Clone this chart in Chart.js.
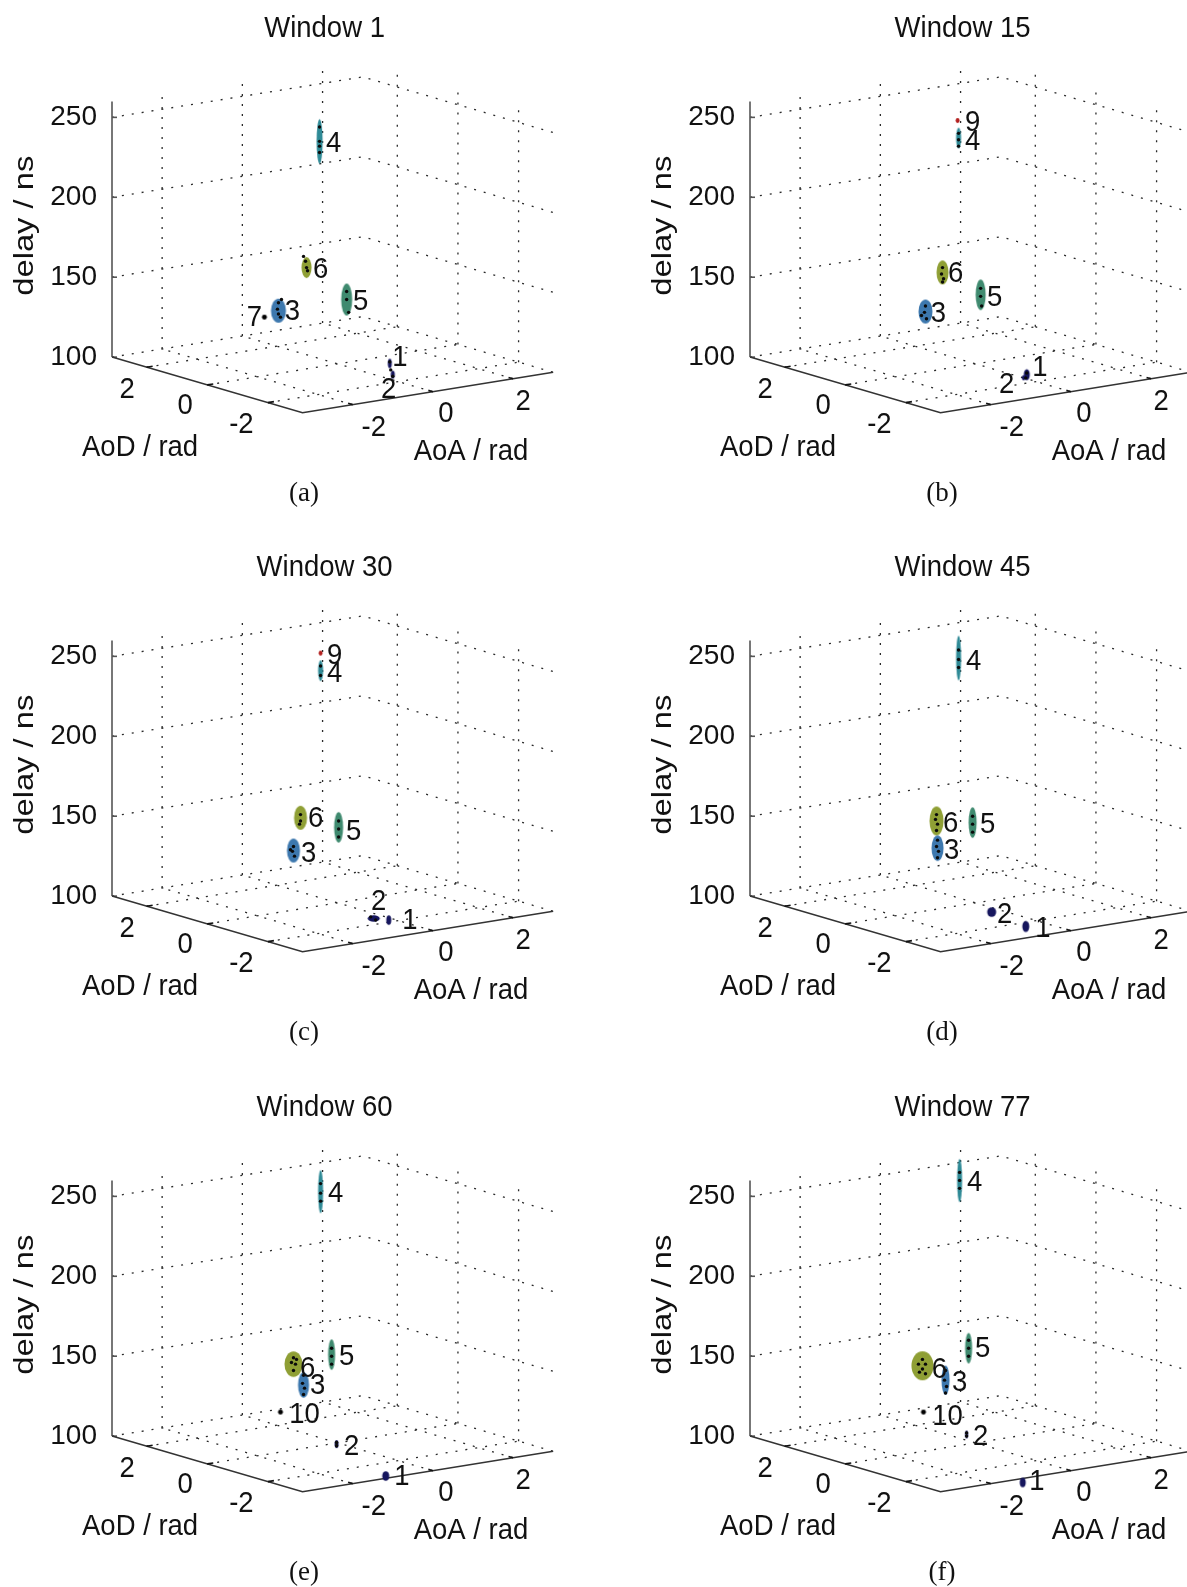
<!DOCTYPE html>
<html>
<head>
<meta charset="utf-8">
<title>Cluster tracking windows</title>
<script src="https://cdn.jsdelivr.net/npm/chart.js@4"></script>
<style>
  html, body { margin:0; padding:0; background:#fff; overflow:hidden; width:1187px; height:1587px; }
  canvas { position:absolute; filter:blur(0.45px); }
</style>
</head>
<body>
<script>
const windowNames = ['Window 1','Window 15','Window 30','Window 45','Window 60','Window 77'];
const captions = ['(a)','(b)','(c)','(d)','(e)','(f)'];

const aoaTicks = [-2,0,2];
const aodTicks = [2,0,-2];
const delayTicks = [100,150,200,250];

// x = horizontal reading across the plot, delay = reading against the delay axis
const w1Ids = [4,6,5,3,7,1,2];
const w1X = [207,194,234,166,152,277,280];
const w1Delay = [235,156,136,129,125,96,89];
const w1SpreadX = [6,10,11,15,5,4,4];
const w1SpreadDelay = [28,13,20,15,3,6,5];
const w1LabelX = [221,208,248,180,142,287,276];
const w1LabelDelay = [234,155,135,129,125,100,80];
const w1SpeckX = [207,207,207,207,191,193,194,195,234,234,236,166,165,166,168,169,277,278,280];
const w1SpeckDelay = [244,235,232,228,163,160,156,154,141,136,128,134,130,127,125,136,97,92,88];

const w2Ids = [9,4,6,5,3,1,2];
const w2X = [207,208,192,230,175,276,273];
const w2Delay = [248,237,153,139,128.5,89,87];
const w2SpreadX = [4,5,12,10,14,6,4];
const w2SpreadDelay = [3,13,15,19,15,7,3];
const w2LabelX = [222,222,205,244,188,289,256];
const w2LabelDelay = [247.5,235.5,152.5,138,128,94,83.5];
const w2SpeckX = [208,208,208,192,191,193,192,230,230,231,175,174,171,176,276,275];
const w2SpeckDelay = [240,236,232,156,152,149,147,143,138,132,132,128,126,124,90,87];

const w3Ids = [9,4,6,5,3,2,1];
const w3X = [208,208,188,226,181,261,276];
const w3Delay = [252,241,149,143,128.5,86,85];
const w3SpreadX = [4,5,13,9,13,12,5];
const w3SpreadDelay = [3,13,15,19,15,4,6];
const w3LabelX = [222,222,203,241,196,266,297];
const w3LabelDelay = [251,240,149,141,127,97,85];
const w3SpeckX = [208,208,188,188,187,226,226,226,181,180,182,178,258,263];
const w3SpeckDelay = [244,238,151,147,145,147,142,137,131,128,125,129,87,85];

const w4Ids = [4,6,5,3,2,1];
const w4X = [208,186,222,187,241,275];
const w4Delay = [249,147,146,130,90,81];
const w4SpreadX = [5,14,8,12,9,7];
const w4SpreadDelay = [28,18,19,16,6,7];
const w4LabelX = [223,200,237,201,254,292];
const w4LabelDelay = [247.5,146,145,129,89,80];
const w4SpeckX = [208,208,208,186,185,187,186,222,222,222,187,186,188,187];
const w4SpeckDelay = [254,248,243,151,148,145,141,150,145,140,135,131,128,124];

const w5Ids = [4,6,5,3,10,2,1];
const w5X = [208,181,219,191,168,224,273];
const w5Delay = [253,145,151,132,115,95,75];
const w5SpreadX = [5,18,7,11,5,4,7];
const w5SpreadDelay = [27,16,19,16,3,5,6];
const w5LabelX = [223,195,234,205,192,239,289];
const w5LabelDelay = [252.5,143,150,132,114,94,75];
const w5SpeckX = [208,208,208,181,179,183,181,184,219,219,219,191,190,192,191,224,224];
const w5SpeckDelay = [258,252,247,149,146,145,141,148,155,150,145,138,133,130,126,96,94];

const w6Ids = [4,6,5,3,10,2,1];
const w6X = [209,172,218,195,173,216,272];
const w6Delay = [260,144,155,135,115,101,71];
const w6SpreadX = [5,22,7,8,5,3,6];
const w6SpreadDelay = [27,18,19,18,3,5,6];
const w6LabelX = [224,189,232,209,197,230,286];
const w6LabelDelay = [259,142,155,134,113,100,72];
const w6SpeckX = [209,209,209,172,168,175,172,169,175,218,218,218,195,194,196,195,216,216];
const w6SpeckDelay = [265,260,255,148,145,145,142,140,139,160,155,150,141,135,131,127,102,100];

const clusterColors = {1:'#16165e',2:'#16165e',3:'#3d78ae',4:'#2f8a96',5:'#3f8a6f',6:'#8f9f35',7:'#000',9:'#b3201f',10:'#000'};

const nsPerPx = 0.633;
const aoaMin = -3.25, aoaMax = 3.0, aodMax = Math.PI, delayTop = 260;
const textFont = '27.5px "Liberation Sans", Arial, sans-serif';

// 3d axes -> the two flat scales of the chart
function project(aoa, aod, delay) {
  const fa = (aoa - aoaMin) / (aoaMax - aoaMin);
  const fd = (aodMax - aod) / (2 * aodMax);
  return { x: fa * 250 + fd * 190, y: delay + fa * 40 * nsPerPx - fd * 55 * nsPerPx };
}

function dotted(points) {
  return { type:'line', data:points, borderColor:'#2a2a2a', borderWidth:1.3, borderDash:[2,8], pointRadius:0, clip:false, order:5 };
}
function solid(points, color) {
  return { type:'line', data:points, borderColor:color, borderWidth:1.6, pointRadius:0, clip:false, order:4 };
}

function frameDatasets() {
  const sets = [];
  delayTicks.forEach(d => {
    sets.push(dotted([project(aoaMin,aodMax,d), project(aoaMax,aodMax,d), project(aoaMax,-aodMax,d)]));
  });
  aoaTicks.forEach(a => {
    sets.push(dotted([project(a,aodMax,100), project(a,aodMax,delayTop)]));
    sets.push(dotted([project(a,-aodMax,100), project(a,aodMax,100)]));
    sets.push(solid([project(a,-aodMax,100), project(a,-aodMax+0.15,100)], '#111'));
  });
  aodTicks.forEach(a => {
    sets.push(dotted([project(aoaMax,a,100), project(aoaMax,a,delayTop)]));
    sets.push(dotted([project(aoaMin,a,100), project(aoaMax,a,100)]));
    sets.push(solid([project(aoaMin,a,100), project(aoaMin+0.15,a,100)], '#111'));
  });
  sets.push(solid([project(aoaMin,aodMax,100), project(aoaMin,-aodMax,100), project(aoaMax,-aodMax,100)], '#333'));
  sets.push(solid([{x:0,y:100},{x:0,y:delayTop}], '#555'));
  delayTicks.forEach(d => sets.push(solid([{x:0,y:d},{x:5,y:d}], '#555')));
  return sets;
}

const spriteCache = {};
function clusterSprite(w, h, color) {
  const key = w.toFixed(1) + '_' + h.toFixed(1) + color;
  if (spriteCache[key]) return spriteCache[key];
  const c = document.createElement('canvas');
  c.width = Math.ceil(w) + 2;
  c.height = Math.ceil(h) + 2;
  const g = c.getContext('2d');
  g.fillStyle = color;
  g.beginPath();
  g.ellipse(c.width/2, c.height/2, w/2, h/2, 0, 0, Math.PI*2);
  g.fill();
  spriteCache[key] = c;
  return c;
}

// the scan of the figure is taller than it is wide, the text follows that
const textStretch = 1.09;
const rotatedStretch = 1.19;
const textPlugin = {
  id:'panelText',
  afterDraw(chart, args, opts) {
    const g = chart.ctx, sx = chart.scales.x, sy = chart.scales.y;
    g.save();
    g.fillStyle = '#111';
    g.textAlign = 'center';
    g.textBaseline = 'middle';
    opts.items.forEach(t => {
      g.save();
      g.font = t.font || textFont;
      g.translate(sx.getPixelForValue(t.x), sy.getPixelForValue(t.y));
      if (!t.font) g.scale(1, t.rotate ? rotatedStretch : textStretch);
      if (t.rotate) g.rotate(t.rotate);
      g.fillText(t.text, 0, 0);
      g.restore();
    });
    g.restore();
  }
};

function drawPanel(i, ids, xs, delays, spreadX, spreadDelay, labelX, labelDelay, speckX, speckDelay) {
  const cv = document.createElement('canvas');
  cv.width = 556;
  cv.height = 508;
  cv.style.left = (i % 2) * 637.5 + 'px';
  cv.style.top = Math.floor(i / 2) * 539.4 + 'px';
  document.body.appendChild(cv);

  const clusters = {
    type:'scatter',
    data: xs.map((x, k) => ({ x, y: delays[k] })),
    pointRadius:3,
    pointHoverRadius:3,
    clip:false,
    order:2,
    pointStyle(ctx) {
      const k = ctx.dataIndex;
      if (k === undefined) return 'circle';
      const s = ctx.chart.scales;
      const w = Math.abs(s.x.getPixelForValue(spreadX[k]) - s.x.getPixelForValue(0));
      const h = Math.abs(s.y.getPixelForValue(spreadDelay[k]) - s.y.getPixelForValue(0));
      return clusterSprite(w, h, clusterColors[ids[k]]);
    }
  };
  const specks = {
    type:'scatter',
    data: speckX.map((x, k) => ({ x, y: speckDelay[k] })),
    pointRadius:1.7,
    pointBackgroundColor:'#0a0a0a',
    pointBorderWidth:0,
    clip:false,
    order:1
  };

  const items = [
    { text:windowNames[i], x:212, y:305.7 },
    { text:captions[i], x:191.5, y:14.6, font:'27px "Liberation Serif", "Times New Roman", serif' },
    { text:'delay / ns', x:-86, y:182.2, rotate:-Math.PI/2 },
    { text:'AoD / rad', x:28, y:43 },
    { text:'AoA / rad', x:358, y:41 },
    { text:String(aoaTicks[0]), x:261, y:55.5 },
    { text:String(aoaTicks[1]), x:333, y:64.5 },
    { text:String(aoaTicks[2]), x:410, y:72 },
    { text:String(aodTicks[0]), x:15, y:79.5 },
    { text:String(aodTicks[1]), x:73, y:69.5 },
    { text:String(aodTicks[2]), x:129, y:57.5 }
  ];
  ids.forEach((id, k) => items.push({ text:String(id), x:labelX[k], y:labelDelay[k] - 0.6 }));

  new Chart(cv.getContext('2d'), {
    type:'scatter',
    data:{ datasets:[...frameDatasets(), clusters, specks] },
    plugins:[textPlugin],
    options:{
      responsive:false,
      animation:false,
      events:[],
      layout:{ padding:{ top:85.4, bottom:71, right:0, left:0 } },
      plugins:{ legend:{display:false}, tooltip:{enabled:false}, title:{display:false}, panelText:{ items } },
      scales:{
        x:{ type:'linear', min:0, max:438.8, display:false },
        y:{
          type:'linear', min:50, max:270,
          grid:{display:false}, border:{display:false},
          afterBuildTicks(s) { s.ticks = delayTicks.map(v => ({value:v})); },
          afterFit(s) { s.width = 112; },
          ticks:{ color:'#111', padding:7, font:{ family:'"Liberation Sans", Arial, sans-serif', size:28 } }
        }
      }
    }
  });
}

drawPanel(0, w1Ids, w1X, w1Delay, w1SpreadX, w1SpreadDelay, w1LabelX, w1LabelDelay, w1SpeckX, w1SpeckDelay);
drawPanel(1, w2Ids, w2X, w2Delay, w2SpreadX, w2SpreadDelay, w2LabelX, w2LabelDelay, w2SpeckX, w2SpeckDelay);
drawPanel(2, w3Ids, w3X, w3Delay, w3SpreadX, w3SpreadDelay, w3LabelX, w3LabelDelay, w3SpeckX, w3SpeckDelay);
drawPanel(3, w4Ids, w4X, w4Delay, w4SpreadX, w4SpreadDelay, w4LabelX, w4LabelDelay, w4SpeckX, w4SpeckDelay);
drawPanel(4, w5Ids, w5X, w5Delay, w5SpreadX, w5SpreadDelay, w5LabelX, w5LabelDelay, w5SpeckX, w5SpeckDelay);
drawPanel(5, w6Ids, w6X, w6Delay, w6SpreadX, w6SpreadDelay, w6LabelX, w6LabelDelay, w6SpeckX, w6SpeckDelay);
</script>
</body>
</html>
